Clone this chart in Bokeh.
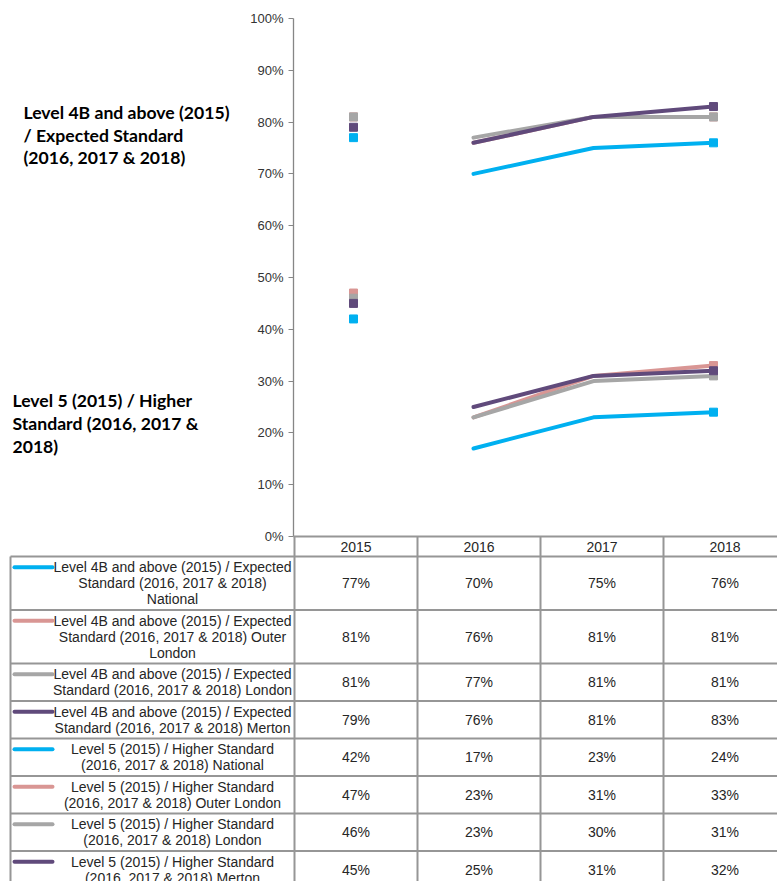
from bokeh.plotting import figure
from bokeh.models import Range1d, FixedTicker, PrintfTickFormatter, LinearAxis
from bokeh.core.properties import value
from bokeh.embed import file_html
from bokeh.resources import INLINE

# ---------------- data ----------------
years = ["2015", "2016", "2017", "2018"]

exp_national = [77, 70, 75, 76]
exp_outer_london = [81, 76, 81, 81]
exp_london = [81, 77, 81, 81]
exp_merton = [79, 76, 81, 83]

high_national = [42, 17, 23, 24]
high_outer_london = [47, 23, 31, 33]
high_london = [46, 23, 30, 31]
high_merton = [45, 25, 31, 32]

y_ticks = [0, 10, 20, 30, 40, 50, 60, 70, 80, 90, 100]

row_labels = [
    ["Level 4B and above (2015) / Expected", "Standard (2016, 2017 & 2018)", "National"],
    ["Level 4B and above (2015) / Expected", "Standard (2016, 2017 & 2018) Outer", "London"],
    ["Level 4B and above (2015) / Expected", "Standard (2016, 2017 & 2018) London"],
    ["Level 4B and above (2015) / Expected", "Standard (2016, 2017 & 2018) Merton"],
    ["Level 5 (2015) / Higher Standard", "(2016, 2017 & 2018) National"],
    ["Level 5 (2015) / Higher Standard", "(2016, 2017 & 2018) Outer London"],
    ["Level 5 (2015) / Higher Standard", "(2016, 2017 & 2018) London"],
    ["Level 5 (2015) / Higher Standard", "(2016, 2017 & 2018) Merton"],
]

annot_expected = ["Level 4B and above (2015)", "/ Expected Standard", "(2016, 2017 & 2018)"]
annot_higher = ["Level 5 (2015) / Higher", "Standard (2016, 2017 &", "2018)"]

C_NAT = "#00B0F0"
C_OUT = "#D99694"
C_LON = "#A6A6A6"
C_MER = "#604A7B"

series = [
    (exp_national, C_NAT), (exp_outer_london, C_OUT), (exp_london, C_LON), (exp_merton, C_MER),
    (high_national, C_NAT), (high_outer_london, C_OUT), (high_london, C_LON), (high_merton, C_MER),
]

# ---------------- figure ----------------
W, H = 777, 881
xi = list(range(len(years)))  # category positions on the x scale
p = figure(width=W, height=H, x_range=Range1d(-0.5, len(years) - 0.5), y_range=Range1d(0, 100),
           x_axis_type=None, y_axis_type=None, toolbar_location=None, output_backend="svg",
           min_border_left=293, min_border_right=4, min_border_top=18, min_border_bottom=345)
p.outline_line_color = None
p.xgrid.visible = False
p.ygrid.visible = False
p.background_fill_color = "white"
p.border_fill_color = "white"

# pixel ranges for the surrounding table and notes (frame: x 293..773, y 18..536)
p.extra_x_ranges = {"px": Range1d(293, 773)}
p.extra_y_ranges = {"py": Range1d(536, 18)}

yaxis = LinearAxis(ticker=FixedTicker(ticks=y_ticks), formatter=PrintfTickFormatter(format="%d%%"),
                   bounds=(0, 100))
yaxis.axis_line_color = "#868686"
yaxis.axis_line_width = 1.3
yaxis.major_tick_line_color = "#868686"
yaxis.major_tick_out = 5
yaxis.major_tick_in = 0
yaxis.minor_tick_line_color = None
yaxis.major_label_text_font = "Liberation Sans"
yaxis.major_label_text_font_size = "13px"
yaxis.major_label_text_color = "#333333"
yaxis.major_label_standoff = 5
p.add_layout(yaxis, "left")

# ---------------- data marks ----------------
for vals, col in series:
    p.line(x=xi[1:], y=vals[1:], line_color=col, line_width=4, line_cap="round", line_join="round")
    p.scatter(x=[xi[0], xi[-1]], y=[vals[0], vals[-1]], marker="square", size=8,
              fill_color=col, line_color=col)

# ---------------- notes on the left ----------------
font_note = value("Lato")
def text(xs, ys, ts, **kw):
    p.text(x=xs, y=ys, text=ts, x_range_name="px", y_range_name="py", level="overlay", **kw)

text([23] * 3, [112, 134.5, 157], annot_expected, text_font=font_note, text_font_style="bold",
     text_font_size="17.6px", text_color="black", text_align="left", text_baseline="middle")
text([12] * 3, [400, 423, 446], annot_higher, text_font=font_note, text_font_style="bold",
     text_font_size="17.6px", text_color="black", text_align="left", text_baseline="middle")

# ---------------- data table ----------------
grid_col = "#969696"
col_w = 123
col_left = 294
col_edges = [col_left + col_w * i for i in range(len(years) + 1)]
col_centers = [col_left + col_w * (i + 0.5) for i in range(len(years))]
bottom = 890
tfont = value("Liberation Sans")
tsize = "14px"
tcol = "#262626"

sx0, sy0, sx1, sy1 = [], [], [], []
def seg(a, b, c, d):
    sx0.append(a); sy0.append(b); sx1.append(c); sy1.append(d)

# header
seg(293, 536, 777, 536)
seg(10, 556, 777, 556)
for xe in col_edges:
    seg(xe, 536, xe, bottom)
seg(10, 556, 10, bottom)
text(col_centers, [546] * len(years), years, text_font=tfont, text_font_size=tsize,
     text_color=tcol, text_align="center", text_baseline="middle")

y_top = 556
line_h = 16
for (vals, col), lines in zip(series, row_labels):
    n = len(lines)
    h = line_h * n + 5.5
    yc = y_top + h / 2
    first = yc - line_h * (n - 1) / 2
    ys = [first + line_h * k for k in range(n)]
    text([172] * n, ys, lines, text_font=tfont, text_font_size=tsize, text_color=tcol,
         text_align="center", text_baseline="middle")
    p.segment(x0=[14], y0=[first], x1=[52], y1=[first], line_color=col, line_width=4,
              line_cap="round", x_range_name="px", y_range_name="py", level="overlay")
    p.scatter(x=[33], y=[first], marker="square", size=6, fill_color=col, line_color=col,
              x_range_name="px", y_range_name="py", level="overlay")
    text(col_centers, [yc] * len(vals), [f"{v}%" for v in vals], text_font=tfont,
         text_font_size=tsize, text_color=tcol, text_align="center", text_baseline="middle")
    y_top += h
    seg(10, y_top, 777, y_top)

p.segment(x0=sx0, y0=sy0, x1=sx1, y1=sy1, line_color=grid_col, line_width=2,
          x_range_name="px", y_range_name="py", level="overlay")

open("out.html", "w").write(file_html(p, INLINE))
